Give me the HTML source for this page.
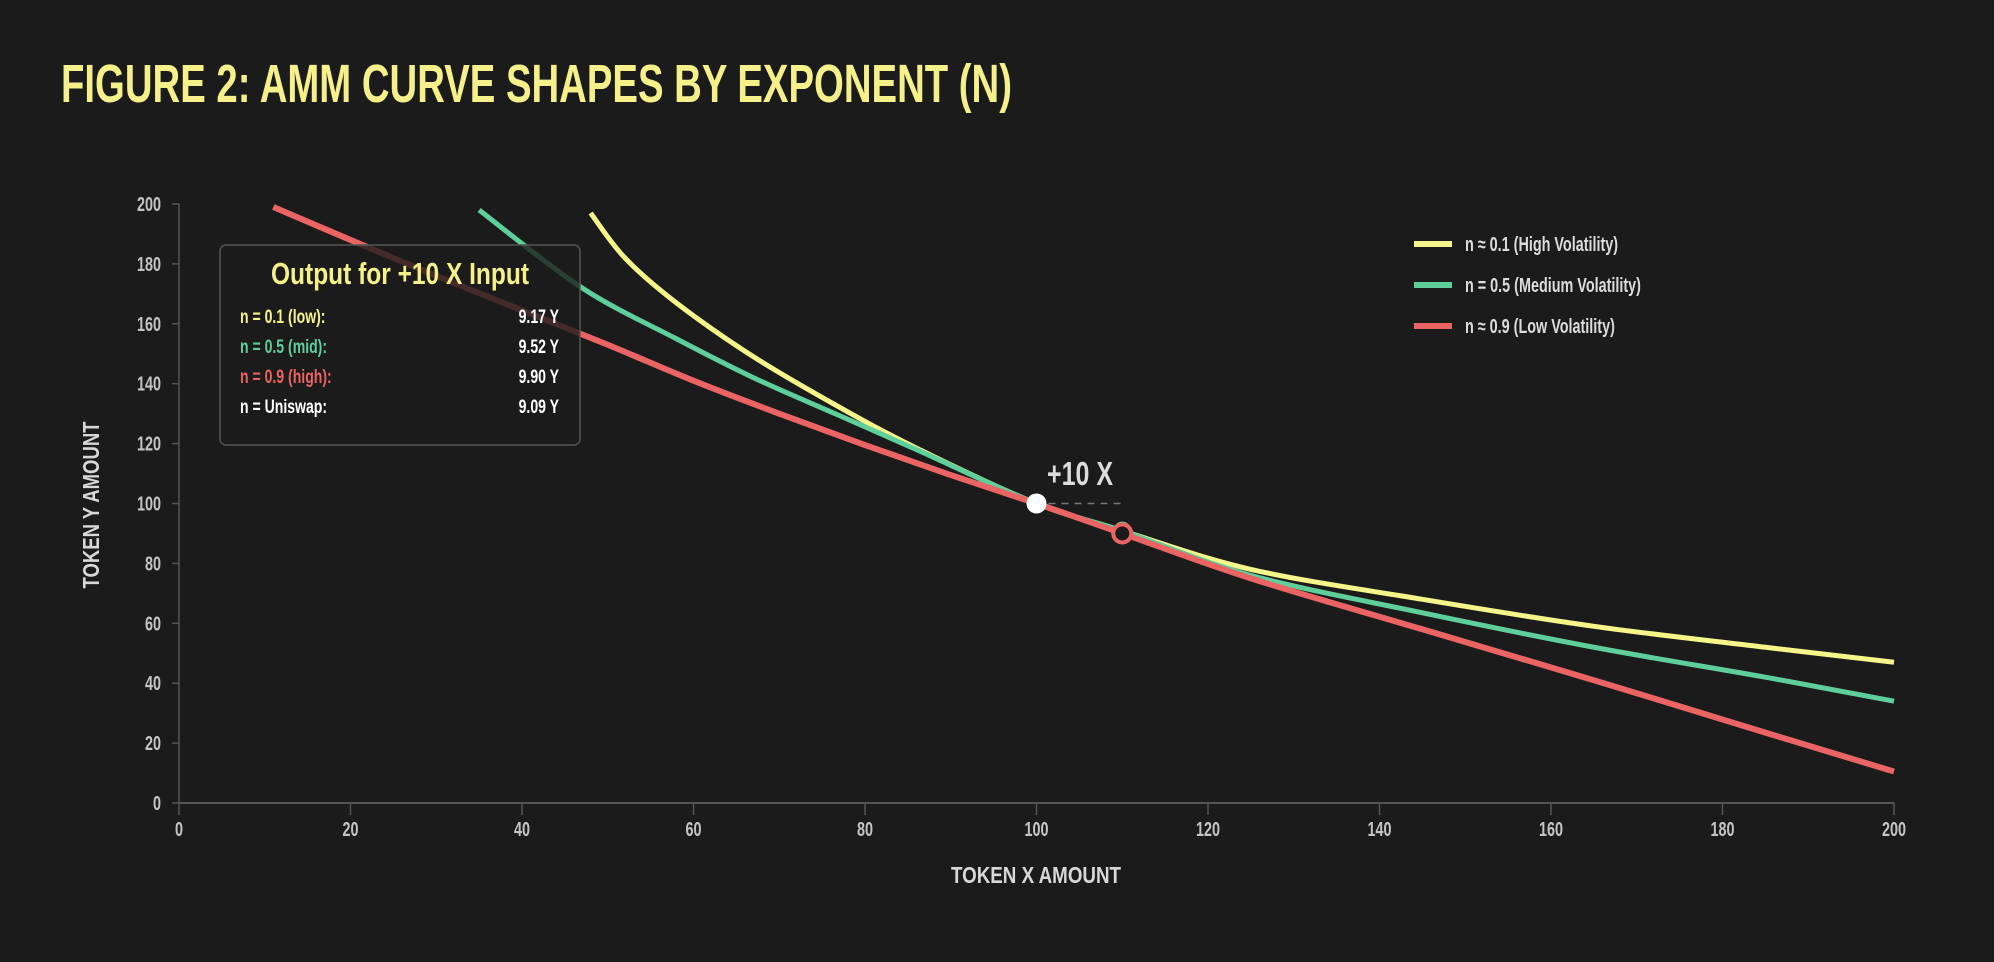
<!DOCTYPE html>
<html><head><meta charset="utf-8"><style>
html,body{margin:0;padding:0;background:#1b1b1b;}
svg{display:block;font-family:"Liberation Sans",sans-serif;}
</style></head><body>
<svg width="1994" height="962" viewBox="0 0 1994 962" xmlns="http://www.w3.org/2000/svg">
<rect x="0" y="0" width="1994" height="962" fill="#1b1b1b"/>
<text x="61" y="102" font-size="54" font-weight="bold" fill="#f5f08a" textLength="951" lengthAdjust="spacingAndGlyphs">FIGURE 2: AMM CURVE SHAPES BY EXPONENT (N)</text>
<g id="axes"></g>
<g id="series"></g>
<g id="overlay"></g>
</svg>
<script>
const xTicks=[0,20,40,60,80,100,120,140,160,180,200];
const yTicks=[0,20,40,60,80,100,120,140,160,180,200];
const yellowX=[48,52,58,67,76.5,86,100,110,125,145,165,185,200];
const yellowY=[197,182,167,149,133,118.5,100,90.9,78,68,59,52,47];
const greenX=[35,47,58,67,76.5,86,100,110,125,145,165,185,200];
const greenY=[198,172,155,142,130,118,100,90.9,76,63.5,52,42,34];
const redX=[11,20,30,40,50,60,70,80,90,100,110,125,145,165,185,200];
const redY=[199,188,176,164.5,153,141,130,119.5,109.5,100,90,75,58,41,23.5,10.5];
const seriesNames=["n ≈ 0.1 (High Volatility)","n = 0.5 (Medium Volatility)","n ≈ 0.9 (Low Volatility)"];
const seriesColors=["#f5f58a","#5ecf9b","#ea6464"];
const boxLabels=["n = 0.1 (low):","n = 0.5 (mid):","n = 0.9 (high):","n = Uniswap:"];
const boxValues=["9.17 Y","9.52 Y","9.90 Y","9.09 Y"];
const boxColors=["#f5f58a","#5ecf9b","#ea6464","#ffffff"];
const startPoint=[100,100];
const endPoints=[[110,90.9],[110,90.9],[110,90.0]];

const NS="http://www.w3.org/2000/svg";
const X0=179,X1=1894,Y0=803,Y1=204;
const sx=v=>X0+(X1-X0)*v/200;
const sy=v=>Y0+(Y1-Y0)*v/200;
function mk(tag,attrs,parent,text){const e=document.createElementNS(NS,tag);for(const k in attrs)e.setAttribute(k,attrs[k]);if(text!==undefined)e.textContent=text;parent.appendChild(e);return e;}
const axes=document.getElementById('axes'),series=document.getElementById('series'),ov=document.getElementById('overlay');

let a=mk('line',{x1:X0,y1:Y0,x2:X1,y2:Y0,stroke:'#555',"stroke-width":2},axes);

a=mk('line',{x1:X0,y1:Y0,x2:X0,y2:Y1,stroke:'#555',"stroke-width":1.5},axes);

xTicks.forEach(v=>{
 let t=mk('line',{x1:sx(v),y1:Y0,x2:sx(v),y2:Y0+12,stroke:'#555',"stroke-width":1.5},axes);
 
 let l=mk('text',{x:sx(v),y:Y0+33,"font-size":20,"font-weight":'bold',fill:'#c4c4c4',"text-anchor":'middle',transform:`translate(${sx(v)},0) scale(0.72,1) translate(${-sx(v)},0)`},axes,String(v));
 
});
yTicks.forEach(v=>{
 let t=mk('line',{x1:X0-7,y1:sy(v),x2:X0,y2:sy(v),stroke:'#555',"stroke-width":1.5},axes);
 
 let l=mk('text',{x:161,y:sy(v)+7,"font-size":20,"font-weight":'bold',fill:'#c4c4c4',"text-anchor":'end',transform:`translate(161,0) scale(0.72,1) translate(-161,0)`},axes,String(v));
 
});
let xt=mk('text',{x:1036,y:883,"font-size":23,"font-weight":'bold',fill:'#d8d8d8',"text-anchor":'middle',textLength:170,lengthAdjust:'spacingAndGlyphs'},axes,'TOKEN X AMOUNT');

let yt=mk('text',{x:0,y:0,"font-size":23,"font-weight":'bold',fill:'#d8d8d8',"text-anchor":'middle',textLength:167,lengthAdjust:'spacingAndGlyphs',transform:'translate(99,505) rotate(-90)'},axes,'TOKEN Y AMOUNT');


function curve(xs,ys,color,name){
 const pts=xs.map((x,i)=>[sx(x),sy(ys[i])]);
 let d='M'+pts[0][0]+','+pts[0][1];
 for(let i=0;i<pts.length-1;i++){
  const p0=pts[Math.max(i-1,0)],p1=pts[i],p2=pts[i+1],p3=pts[Math.min(i+2,pts.length-1)];
  const c1=[p1[0]+(p2[0]-p0[0])/6,p1[1]+(p2[1]-p0[1])/6],c2=[p2[0]-(p3[0]-p1[0])/6,p2[1]-(p3[1]-p1[1])/6];
  d+=` C${c1[0]},${c1[1]} ${c2[0]},${c2[1]} ${p2[0]},${p2[1]}`;
 }
 const p=mk('path',{d:d,fill:'none',stroke:color,"stroke-width":name==='red-curve'?6:5,"stroke-linecap":'butt'},series);
 
}
curve(yellowX,yellowY,seriesColors[0],'yellow-curve');
curve(greenX,greenY,seriesColors[1],'green-curve');
curve(redX,redY,seriesColors[2],'red-curve');

seriesNames.forEach((n,i)=>{
 const y=244+i*41;
 let l=mk('line',{x1:1414,y1:y,x2:1452,y2:y,stroke:seriesColors[i],"stroke-width":6},ov);
 
 let t=mk('text',{x:1465,y:y+7,"font-size":20,"font-weight":'bold',fill:'#dcdcdc',transform:`translate(1465,0) scale(0.72,1) translate(-1465,0)`},ov,n);
 
});

let b=mk('rect',{x:220,y:245,width:360,height:200,rx:6,fill:'rgba(28,28,28,0.8)',stroke:'#555',"stroke-width":1.5},ov);

let bt=mk('text',{x:400,y:284,"font-size":31,"font-weight":'bold',fill:'#f5f08a',"text-anchor":'middle',textLength:258,lengthAdjust:'spacingAndGlyphs'},ov,'Output for +10 X Input');

boxLabels.forEach((s,i)=>{
 const y=323+i*30;
 let l=mk('text',{x:240,y:y,"font-size":19,"font-weight":'bold',fill:boxColors[i],transform:`translate(240,0) scale(0.74,1) translate(-240,0)`},ov,s);
 
 let v=mk('text',{x:559,y:y,"font-size":19,"font-weight":'bold',fill:'#ffffff',"text-anchor":'end',transform:`translate(559,0) scale(0.74,1) translate(-559,0)`},ov,boxValues[i]);
 
});

let dl=mk('line',{x1:sx(startPoint[0])+12,y1:sy(startPoint[1]),x2:sx(110),y2:sy(startPoint[1]),stroke:'#777',"stroke-width":1.5,"stroke-dasharray":'7,6'},ov);

let pl=mk('text',{x:1047,y:485,"font-size":33,"font-weight":'bold',fill:'#dcdcdc',textLength:66,lengthAdjust:'spacingAndGlyphs'},ov,'+10 X');

endPoints.forEach((p,i)=>{
 let c=mk('circle',{cx:sx(p[0]),cy:sy(p[1]),r:i===2?9:7,fill:'#1b1b1b',stroke:seriesColors[i],"stroke-width":4},ov);
 
});
let sp=mk('circle',{cx:sx(startPoint[0]),cy:sy(startPoint[1]),r:10,fill:'#ffffff'},ov);

</script>
</body></html>
